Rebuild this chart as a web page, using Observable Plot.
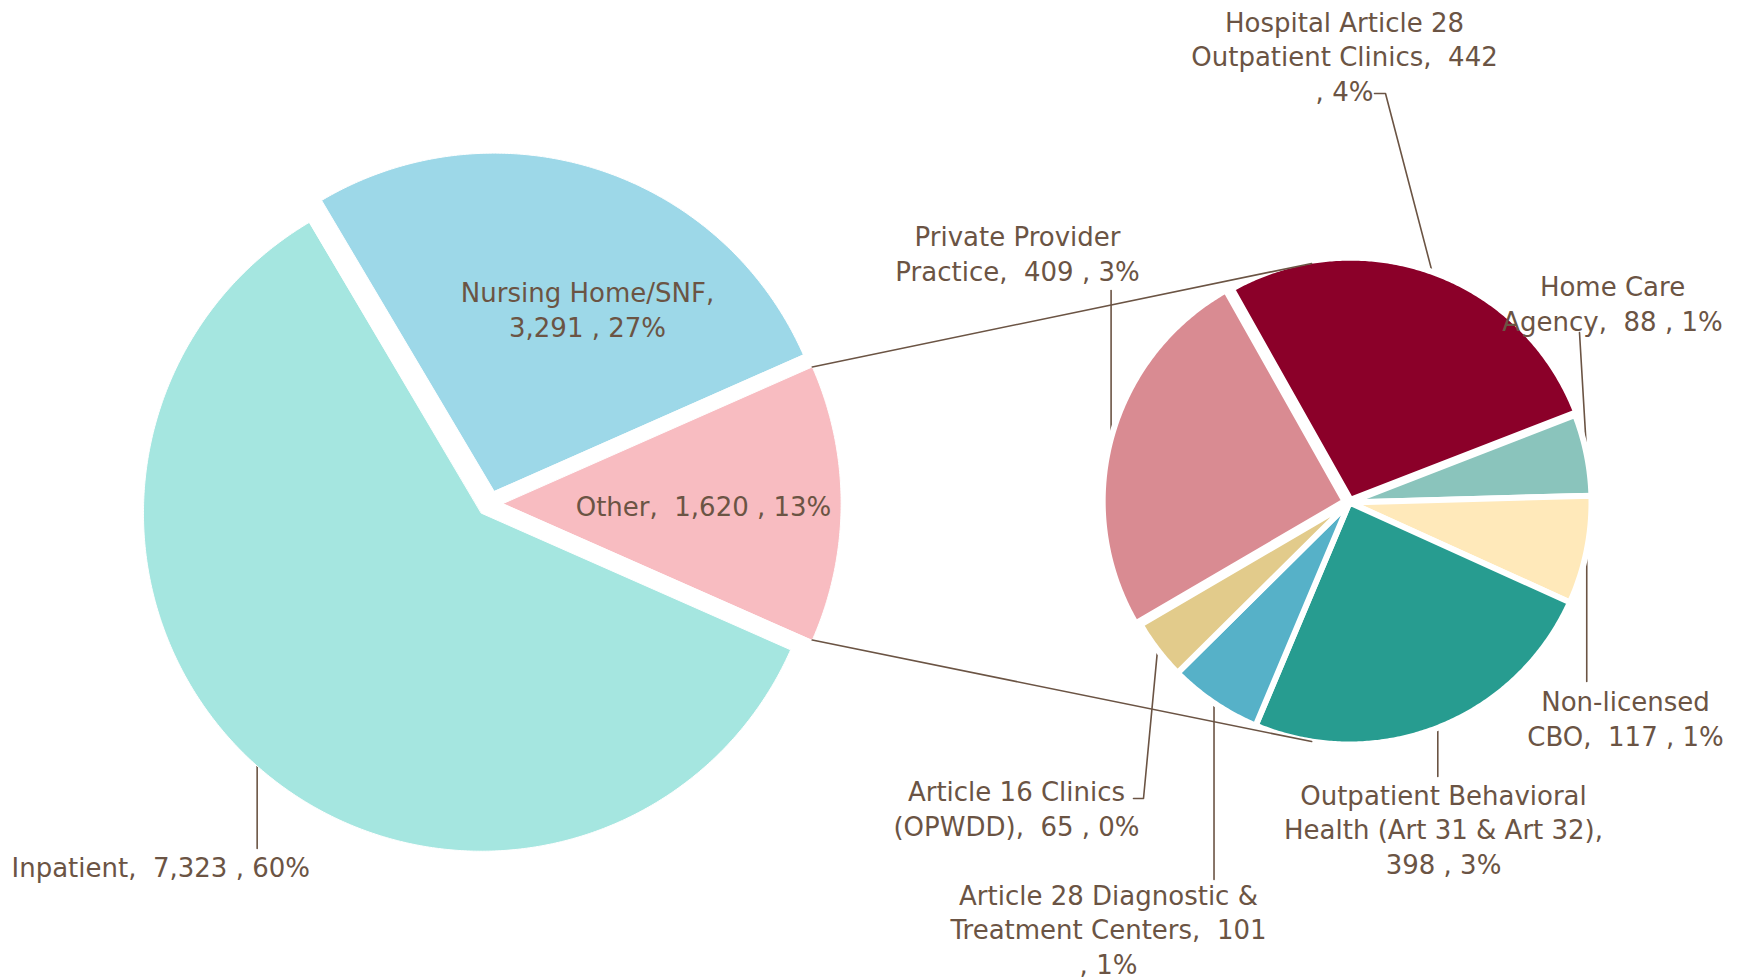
<!DOCTYPE html>
<html>
<head>
<meta charset="utf-8">
<script src="https://cdn.jsdelivr.net/npm/d3@7"></script>
<script src="https://cdn.jsdelivr.net/npm/@observablehq/plot@0.6"></script>
<style>
  html, body { margin: 0; padding: 0; background: #fff; overflow: hidden; }
  #chart svg { display: block; }
</style>
</head>
<body>
<div id="chart"></div>
<script>
// ---------------- DATA ----------------
const mainNames = ["Nursing Home/SNF", "Other", "Inpatient"];
const mainValues = [3291, 1620, 7323];
const mainPercents = [27, 13, 60];

const otherNames = [
  "Hospital Article 28\nOutpatient Clinics",
  "Home Care\nAgency",
  "Non-licensed\nCBO",
  "Outpatient Behavioral\nHealth (Art 31 & Art 32)",
  "Article 28 Diagnostic &\nTreatment Centers",
  "Article 16 Clinics\n(OPWDD)",
  "Private Provider\nPractice"
];
const otherValues = [442, 88, 117, 398, 101, 65, 409];
const otherPercents = [4, 1, 1, 3, 1, 0, 3];

// ---------------- STYLE / LAYOUT ----------------
const W = 1737, H = 980;
const mainColors = ["#9dd8e8", "#f8bcc1", "#a5e6e0"];
const otherColors = ["#8b0029", "#8ac4bc", "#ffe9ba", "#279c90", "#56b1c8", "#e2cb8b", "#d98b92"];
const textColor = "#6b5444";
const FONT = "DejaVu Sans";

const leftPie = {cx: 489.6, cy: 503, r: 338, explode: [13, 13, 13]};
const rightPie = {cx: 1349, cy: 502, r: 242, explode: [3, 0, 0, 0, 0, 0, 5], start: -29.4 * Math.PI / 180};
const connectorOffset = 9 * Math.PI / 180; // connectors meet the second pie this far left of its top / bottom

// label layout: position, anchor, how the text breaks, leader route
const mainLabelLayout = [
  {x: 587, y: 308, anchor: "middle", breakName: true, breakPct: false},
  {x: 703, y: 505, anchor: "middle", breakName: false, breakPct: false},
  {x: 11, y: 866, anchor: "start", breakName: false, breakPct: false, leader: [{vy: 848}]}
];
const otherLabelLayout = [
  {x: 1344, y: 55, breakName: false, breakPct: true, leader: [{x: 1385, y: 93}, {x: 1374, y: 93}]},
  {x: 1612, y: 302, breakName: false, breakPct: false, leader: [{x: 1579, y: 332}]},
  {x: 1625, y: 717, breakName: false, breakPct: false, leader: [{vy: 681}]},
  {x: 1443, y: 828, breakName: true, breakPct: false, leader: [{vy: 776}]},
  {x: 1108, y: 928, breakName: false, breakPct: true, leader: [{vy: 879}]},
  {x: 1016, y: 807, breakName: false, breakPct: false, leader: [{x: 1143, y: 798}, {x: 1133, y: 798}]},
  {x: 1017, y: 252, breakName: false, breakPct: false, leader: [{vy: 290}]}
];

// ---------------- GEOMETRY (computed from data) ----------------
const fmt = d3.format(",");
function buildPie(names, values, start, geo, explode) {
  const total = d3.sum(values);
  const pts = [], info = [];
  let a = start;
  names.forEach((name, i) => {
    const span = values[i] / total * 2 * Math.PI;
    const a0 = a, a1 = a + span; a = a1;
    const mid = (a0 + a1) / 2;
    const ox = geo.cx + explode[i] * Math.sin(mid);
    const oy = geo.cy - explode[i] * Math.cos(mid);
    pts.push({name, x: ox, y: oy});
    const steps = Math.max(2, Math.ceil((a1 - a0) / (Math.PI / 360)));
    for (let k = 0; k <= steps; k++) {
      const t = a0 + (a1 - a0) * k / steps;
      pts.push({name, x: ox + geo.r * Math.sin(t), y: oy - geo.r * Math.cos(t)});
    }
    info.push({name, a0, a1, mid, ox, oy});
  });
  return {pts, info};
}

// first pie: "Other" slice centred toward the second pie (90deg clockwise from top)
const mainTotal = d3.sum(mainValues);
const mainStart = Math.PI / 2 - mainValues[0] / mainTotal * 2 * Math.PI - mainValues[1] / mainTotal * Math.PI;
const pieA = buildPie(mainNames, mainValues, mainStart, leftPie, leftPie.explode);
const pieB = buildPie(otherNames, otherValues, rightPie.start, rightPie, rightPie.explode);

function labelText(name, value, pct, lay) {
  const s1 = lay.breakName ? ",\n" : ",\u00a0 ";
  const s2 = lay.breakPct ? "\n, " : " , ";
  return name + s1 + fmt(value) + s2 + pct + "%";
}
const labels = [
  ...mainNames.map((n, i) => ({...mainLabelLayout[i], text: labelText(n, mainValues[i], mainPercents[i], mainLabelLayout[i])})),
  ...otherNames.map((n, i) => ({anchor: "middle", ...otherLabelLayout[i], text: labelText(n, otherValues[i], otherPercents[i], otherLabelLayout[i])}))
];

// leader lines from slice mid-arc to label
const leaders = [];
function addLeaders(info, geo, layouts, prefix) {
  info.forEach((s, i) => {
    const lay = layouts[i];
    if (!lay.leader) return;
    const px = s.ox + geo.r * Math.sin(s.mid), py = s.oy - geo.r * Math.cos(s.mid);
    const id = prefix + i;
    leaders.push({id, x: px, y: py});
    lay.leader.forEach(p => {
      if (p.vy !== undefined) leaders.push({id, x: px, y: p.vy});
      else leaders.push({id, x: p.x, y: p.y});
    });
  });
}
addLeaders(pieA.info, leftPie, mainLabelLayout, "a");
addLeaders(pieB.info, rightPie, otherLabelLayout, "b");

// connector lines from the "Other" slice edges to the top / bottom of the second pie
const oth = pieA.info[1];
const topAng = -connectorOffset, botAng = Math.PI + connectorOffset;
const connectors = [
  {id: "top", x: oth.ox + leftPie.r * Math.sin(oth.a0), y: oth.oy - leftPie.r * Math.cos(oth.a0)},
  {id: "top", x: rightPie.cx + rightPie.r * Math.sin(topAng), y: rightPie.cy - rightPie.r * Math.cos(topAng)},
  {id: "bot", x: oth.ox + leftPie.r * Math.sin(oth.a1), y: oth.oy - leftPie.r * Math.cos(oth.a1)},
  {id: "bot", x: rightPie.cx + rightPie.r * Math.sin(botAng), y: rightPie.cy - rightPie.r * Math.cos(botAng)}
];

// ---------------- PLOT ----------------
const textOpts = {x: "x", y: "y", text: "text", lineAnchor: "middle", fontSize: 26, lineHeight: 1.32, fill: textColor};
const chart = Plot.plot({
  width: W,
  height: H,
  margin: 0,
  style: {fontFamily: FONT, background: "#fff"},
  x: {domain: [0, W], range: [0, W], axis: null},
  y: {domain: [0, H], range: [0, H], axis: null},
  color: {domain: [...mainNames, ...otherNames], range: [...mainColors, ...otherColors]},
  marks: [
    Plot.line(leaders, {x: "x", y: "y", z: "id", stroke: textColor, strokeWidth: 1.6, curve: "linear"}),
    Plot.line(pieA.pts, {x: "x", y: "y", z: "name", fill: "name", stroke: "white", strokeWidth: 1, curve: "linear-closed"}),
    Plot.line(pieB.pts, {x: "x", y: "y", z: "name", fill: "name", stroke: "white", strokeWidth: 6, strokeLinejoin: "round", curve: "linear-closed"}),
    Plot.line(connectors, {x: "x", y: "y", z: "id", stroke: textColor, strokeWidth: 1.6}),
    Plot.text(labels.filter(d => d.anchor === "middle"), {...textOpts, textAnchor: "middle"}),
    Plot.text(labels.filter(d => d.anchor === "start"), {...textOpts, textAnchor: "start"})
  ]
});
document.getElementById("chart").appendChild(chart);
</script>
</body>
</html>
